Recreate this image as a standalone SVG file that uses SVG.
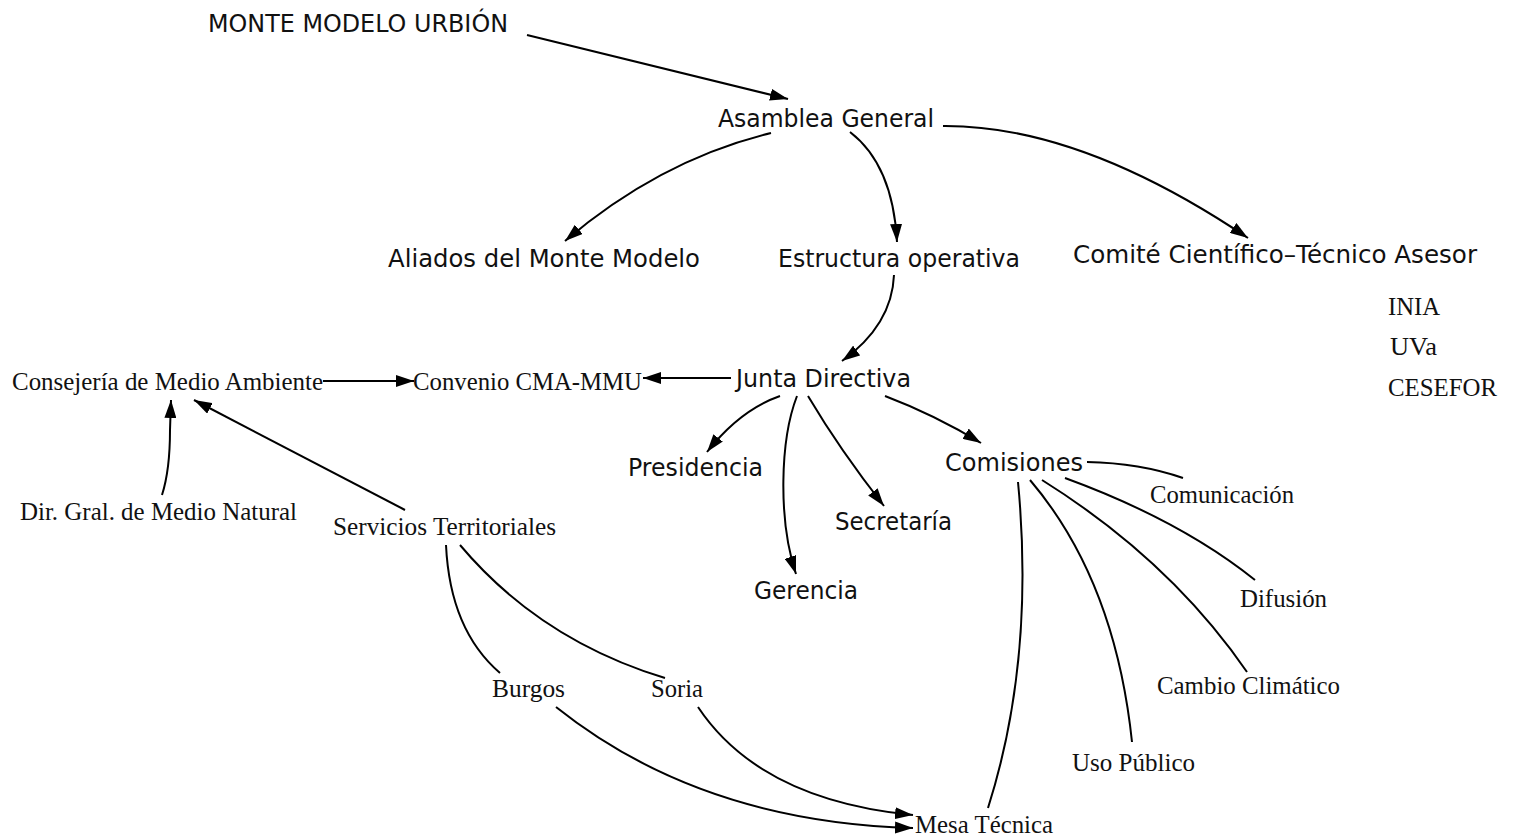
<svg xmlns="http://www.w3.org/2000/svg" width="1515" height="839" viewBox="0 0 1515 839">
<defs>
<marker id="ah" viewBox="0 0 18 12" refX="18" refY="6" markerWidth="18" markerHeight="12" markerUnits="userSpaceOnUse" orient="auto">
<path d="M0,0 L18,6 L0,12 Z" fill="#000"/>
</marker>
</defs>
<style>
.s{font-family:"DejaVu Sans","Noto Sans",sans-serif;font-size:24px;fill:#111}
.r{font-family:"Liberation Serif","Times New Roman",serif;font-size:24.5px;fill:#111}
.c path{fill:none;stroke:#000;stroke-width:2}
.c .a{marker-end:url(#ah)}
</style>
<rect width="1515" height="839" fill="#fff"/>
<g class="c" id="connectors">
<path class="a" d="M527,35 L788,99"/>
<path class="a" d="M771,133 Q660,160 565,241"/>
<path class="a" d="M850,132 Q893,165 897,242"/>
<path class="a" d="M943,126 Q1080,125 1248,238"/>
<path class="a" d="M894,275 Q892,325 842,361"/>
<path class="a" d="M731,378 L643,378"/>
<path class="a" d="M323,381 L414,381"/>
<path class="a" d="M162,495 Q170,470 170,430 L171,400"/>
<path class="a" d="M405,510 L194,400"/>
<path class="a" d="M780,396 Q740,410 707,452"/>
<path class="a" d="M797,396 C780,440 778,520 796,574"/>
<path class="a" d="M808,396 Q840,450 884,506"/>
<path class="a" d="M885,396 Q935,415 981,443"/>
<path d="M1087,462 Q1140,463 1183,478"/>
<path d="M1065,478 Q1180,520 1255,580"/>
<path d="M1042,480 Q1170,560 1247,672"/>
<path d="M1030,480 Q1115,580 1132,742"/>
<path d="M1018,482 Q1035,660 988,808"/>
<path d="M446,545 Q450,630 500,673"/>
<path d="M460,545 Q540,640 665,678"/>
<path class="a" d="M556,707 Q700,822 913,828"/>
<path class="a" d="M698,707 Q760,800 913,815"/>
</g>
<g id="n-monte"><text class="s" x="208" y="32" textLength="300" lengthAdjust="spacingAndGlyphs">MONTE MODELO URBIÓN</text></g>
<g id="n-asamblea"><text class="s" x="718" y="127" textLength="216" lengthAdjust="spacingAndGlyphs">Asamblea General</text></g>
<g id="n-aliados"><text class="s" x="388" y="267" textLength="312" lengthAdjust="spacingAndGlyphs">Aliados del Monte Modelo</text></g>
<g id="n-estructura"><text class="s" x="778" y="267" textLength="242" lengthAdjust="spacingAndGlyphs">Estructura operativa</text></g>
<g id="n-comite"><text class="s" x="1073" y="263" textLength="404" lengthAdjust="spacingAndGlyphs">Comité Científico–Técnico Asesor</text></g>
<g id="n-inia"><text class="r" x="1388" y="315" textLength="52" lengthAdjust="spacingAndGlyphs">INIA</text></g>
<g id="n-uva"><text class="r" x="1390" y="355" textLength="47" lengthAdjust="spacingAndGlyphs">UVa</text></g>
<g id="n-cesefor"><text class="r" x="1388" y="396" textLength="109" lengthAdjust="spacingAndGlyphs">CESEFOR</text></g>
<g id="n-consejeria"><text class="r" x="12" y="390" textLength="311" lengthAdjust="spacingAndGlyphs">Consejería de Medio Ambiente</text></g>
<g id="n-convenio"><text class="r" x="413" y="390" textLength="229" lengthAdjust="spacingAndGlyphs">Convenio CMA-MMU</text></g>
<g id="n-junta"><text class="s" x="736" y="387" textLength="175" lengthAdjust="spacingAndGlyphs">Junta Directiva</text></g>
<g id="n-presidencia"><text class="s" x="628" y="476" textLength="135" lengthAdjust="spacingAndGlyphs">Presidencia</text></g>
<g id="n-comisiones"><text class="s" x="945" y="471" textLength="138" lengthAdjust="spacingAndGlyphs">Comisiones</text></g>
<g id="n-comunicacion"><text class="r" x="1150" y="503" textLength="144" lengthAdjust="spacingAndGlyphs">Comunicación</text></g>
<g id="n-secretaria"><text class="s" x="835" y="530" textLength="117" lengthAdjust="spacingAndGlyphs">Secretaría</text></g>
<g id="n-gerencia"><text class="s" x="754" y="599" textLength="104" lengthAdjust="spacingAndGlyphs">Gerencia</text></g>
<g id="n-difusion"><text class="r" x="1240" y="607" textLength="87" lengthAdjust="spacingAndGlyphs">Difusión</text></g>
<g id="n-dir"><text class="r" x="20" y="520" textLength="277" lengthAdjust="spacingAndGlyphs">Dir. Gral. de Medio Natural</text></g>
<g id="n-servicios"><text class="r" x="333" y="535" textLength="223" lengthAdjust="spacingAndGlyphs">Servicios Territoriales</text></g>
<g id="n-burgos"><text class="r" x="492" y="697" textLength="73" lengthAdjust="spacingAndGlyphs">Burgos</text></g>
<g id="n-soria"><text class="r" x="651" y="697" textLength="52" lengthAdjust="spacingAndGlyphs">Soria</text></g>
<g id="n-cambio"><text class="r" x="1157" y="694" textLength="183" lengthAdjust="spacingAndGlyphs">Cambio Climático</text></g>
<g id="n-uso"><text class="r" x="1072" y="771" textLength="123" lengthAdjust="spacingAndGlyphs">Uso Público</text></g>
<g id="n-mesa"><text class="r" x="915" y="833" textLength="138" lengthAdjust="spacingAndGlyphs">Mesa Técnica</text></g>
</svg>
